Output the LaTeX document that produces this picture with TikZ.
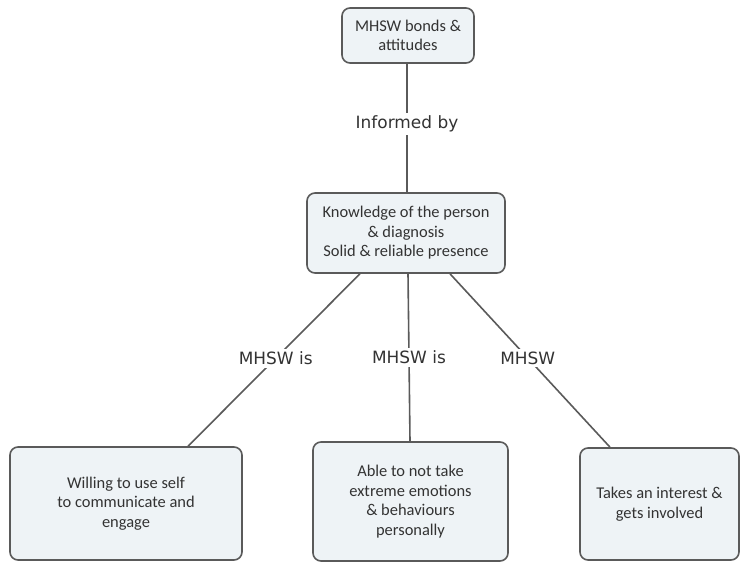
\documentclass[tikz,border=0pt]{standalone}
\usepackage{fontspec}
\setmainfont{Carlito}
\newfontfamily\labelfont{DejaVu Sans}
\definecolor{boxfill}{HTML}{EEF3F6}
\definecolor{boxline}{HTML}{5A5A5A}
\definecolor{txt}{HTML}{333333}
\tikzset{
  conceptbox/.style={draw=boxline, line width=1.6bp, fill=boxfill, rounded corners=8bp,
    align=center, text=txt, inner sep=2bp, font=\fontsize{16.5}{19.5}\selectfont},
  linkline/.style={draw=boxline, line width=1.6bp},
  linklabel/.style={fill=white, text=txt, inner sep=3bp, font=\labelfont\fontsize{17}{20}\selectfont}
}
\begin{document}
\begin{tikzpicture}[x=1bp,y=-1bp]
\useasboundingbox (0,0) rectangle (741,563);
\node[conceptbox, minimum width=132bp, minimum height=55bp] (top) at (408,35.5) {MHSW bonds \&\\attitudes};
\node[conceptbox, minimum width=198bp, minimum height=80bp] (mid) at (406,233) {Knowledge of the person\\\& diagnosis\\Solid \& reliable presence};
\node[conceptbox, minimum width=232bp, minimum height=113bp] (left) at (126,503.5) {Willing to use self\\to communicate and\\engage};
\node[conceptbox, minimum width=195bp, minimum height=119bp] (center) at (410.5,501.5) {Able to not take\\extreme emotions\\\& behaviours\\personally};
\node[conceptbox, minimum width=159bp, minimum height=112bp] (right) at (659.5,504) {Takes an interest \&\\gets involved};
\draw[linkline] ([xshift=-1bp]top.south) -- node[linklabel, pos=0.47] (l0) {Informed by} ([xshift=1bp]mid.north);
\draw[linkline] ([xshift=-46bp]mid.south) -- node[linklabel, pos=0.49] (l1) {MHSW is} ([xshift=62bp]left.north);
\draw[linkline] ([xshift=2bp]mid.south) -- node[linklabel, pos=0.5] (l2) {MHSW is} ([xshift=-0.5bp]center.north);
\draw[linkline] ([xshift=44bp]mid.south) -- node[linklabel, pos=0.486] (l3) {MHSW} ([xshift=-49.5bp]right.north);
\end{tikzpicture}
\end{document}
